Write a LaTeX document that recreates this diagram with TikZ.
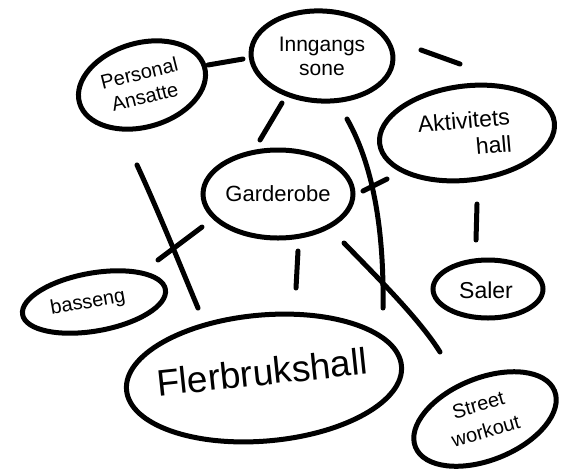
\documentclass[tikz,border=0pt]{standalone}
\usepackage{fontspec}
\setmainfont{Liberation Sans}
\usetikzlibrary{shapes.geometric}
\begin{document}
\begin{tikzpicture}[x=1pt,y=-1pt,
  bubble/.style={draw, ellipse, line width=5pt, inner sep=0pt},
  label/.style={inner sep=0pt, align=center},
  link/.style={line width=5pt, line cap=round}]
\useasboundingbox[fill=white] (0,0) rectangle (569,472);
% bubbles
\node[bubble, minimum width=130pt, minimum height=84pt, rotate=16] (pers) at (142,85) {};
\node[bubble, minimum width=142pt, minimum height=90pt, rotate=-3] (inn) at (322,56) {};
\node[bubble, minimum width=176pt, minimum height=94pt, rotate=7] (akt) at (467,133) {};
\node[bubble, minimum width=150pt, minimum height=88pt] (gard) at (278,194) {};
\node[bubble, minimum width=145pt, minimum height=58pt, rotate=10] (bass) at (94,302) {};
\node[bubble, minimum width=110pt, minimum height=58pt] (saler) at (488,289) {};
\node[bubble, minimum width=276pt, minimum height=126pt, rotate=5] (fler) at (264,378) {};
\node[bubble, minimum width=150pt, minimum height=82pt, rotate=22] (street) at (485,419) {};
% texts
\node[label, rotate=14, font=\fontsize{20}{24}\selectfont] (pers-t) at (pers) {Personal\\Ansatte};
\node[label, font=\fontsize{21}{24}\selectfont] (inn-t) at (inn) {Inngangs\\sone};
\node[label, rotate=5, font=\fontsize{23}{27}\selectfont] (akt-t) at (465,134) {Aktivitets\\\hspace*{2.4em}hall};
\node[label, font=\fontsize{22}{24}\selectfont] (gard-t) at (gard) {Garderobe};
\node[label, rotate=10, font=\fontsize{20}{22}\selectfont] (bass-t) at (88,303) {basseng};
\node[label, font=\fontsize{23}{25}\selectfont] (saler-t) at (486,290) {Saler};
\node[label, rotate=6, font=\fontsize{37}{40}\selectfont] (fler-t) at (262,372) {Flerbrukshall};
\node[label, rotate=16, font=\fontsize{20}{27}\selectfont] (street-t) at (482,418) {Street\\workout};
% connector end points
\coordinate (pi1) at (208,65);   \coordinate (pi2) at (243,59);
\coordinate (ia1) at (421,50);   \coordinate (ia2) at (460,64);
\coordinate (ig1) at (282,103);  \coordinate (ig2) at (260,140);
\coordinate (if1) at (347,119);  \coordinate (if2) at (383,308);
\coordinate (ga1) at (363,191);  \coordinate (ga2) at (387,179);
\coordinate (pf1) at (137,165);  \coordinate (pf2) at (198,308);
\coordinate (gb1) at (202,227);  \coordinate (gb2) at (158,260);
\coordinate (as1) at (477,204);  \coordinate (as2) at (476,240);
\coordinate (gf1) at (298,251);  \coordinate (gf2) at (296,288);
\coordinate (gs1) at (344,243);  \coordinate (gs2) at (440,352);
% connectors
\draw[link] (pi1) -- (pi2);
\draw[link] (ia1) -- (ia2);
\draw[link] (ig1) -- (ig2);
\draw[link] (if1) .. controls (376,170) and (384,240) .. (if2);
\draw[link] (ga1) -- (ga2);
\draw[link] (pf1) .. controls (160,215) and (180,265) .. (pf2);
\draw[link] (gb1) -- (gb2);
\draw[link] (as1) -- (as2);
\draw[link] (gf1) -- (gf2);
\draw[link] (gs1) .. controls (380,280) and (420,320) .. (gs2);
\end{tikzpicture}
\end{document}
